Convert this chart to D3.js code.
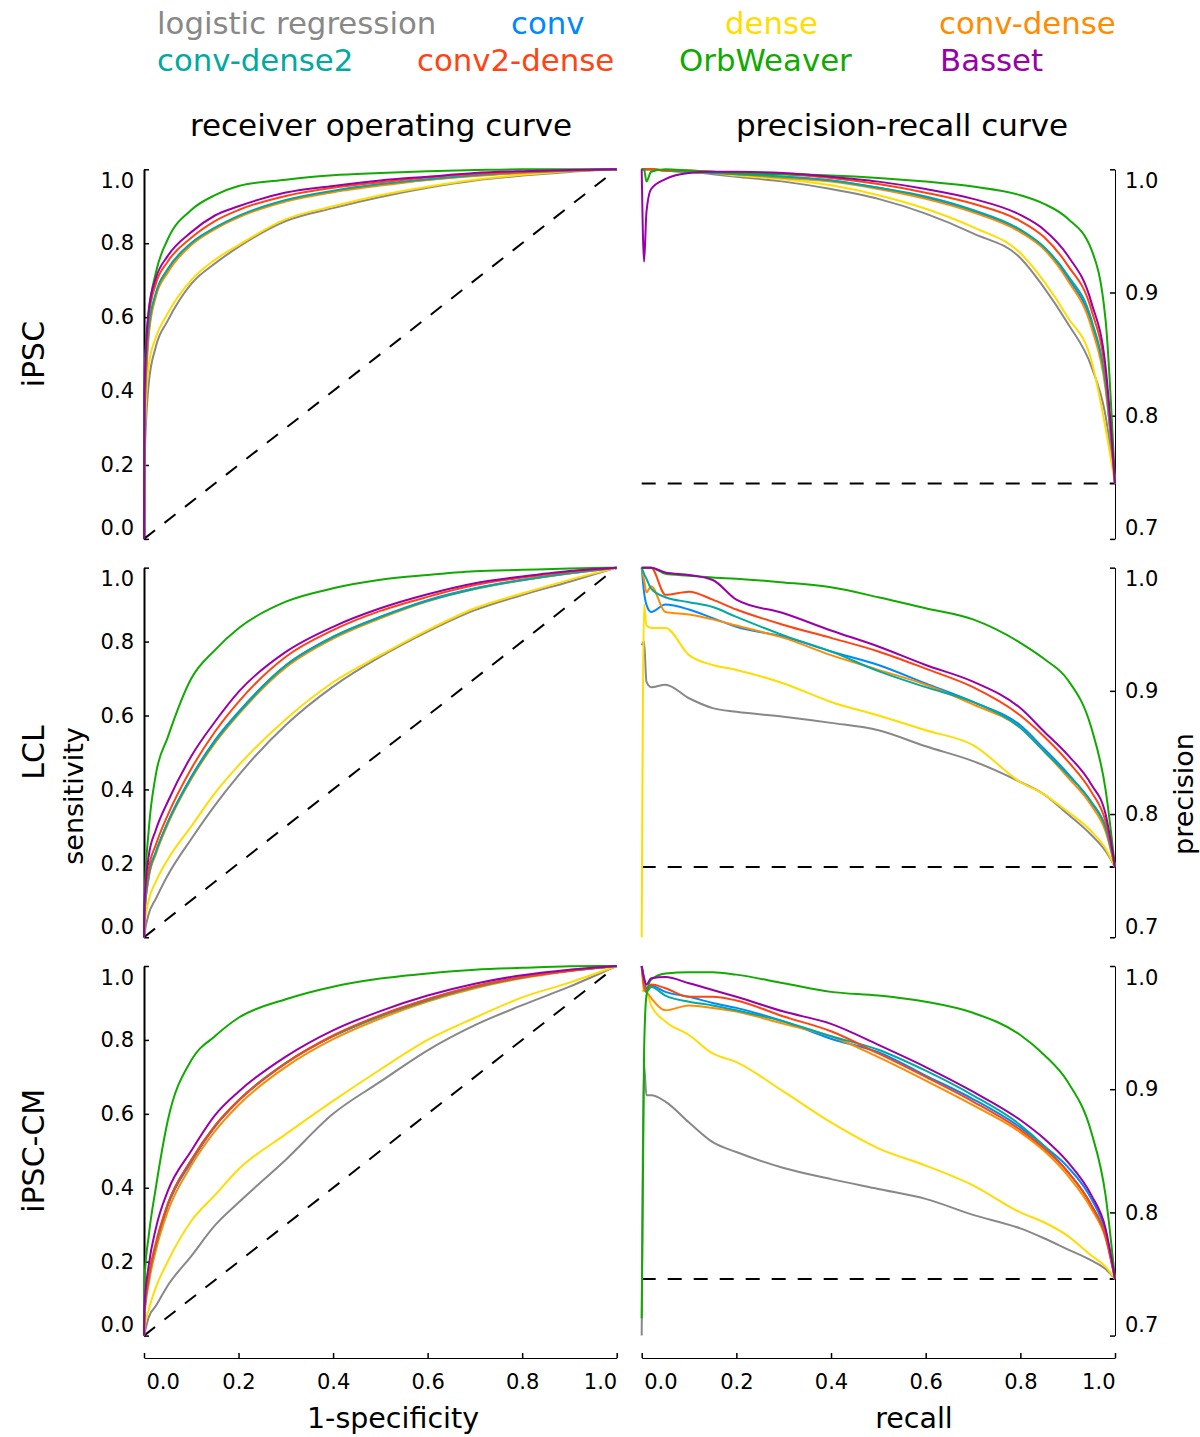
<!DOCTYPE html>
<html><head><meta charset="utf-8">
<script src="https://cdn.jsdelivr.net/npm/d3@7"></script>
<style>body{margin:0;background:#fff} text{font-family:"DejaVu Sans",sans-serif}</style>
</head><body><svg id="c" width="1200" height="1437"></svg>
<script>
// ---------- data ----------
const models = ["logistic regression","conv","dense","conv-dense","conv-dense2","conv2-dense","OrbWeaver","Basset"];
const colors = ["#888888","#0088ff","#ffdd00","#ff8c00","#00aaa0","#ff4411","#11aa00","#9900aa"];
const cellLines = ["iPSC","LCL","iPSC-CM"];
const prBaselines = [0.745, 0.757, 0.746];
const rocTicks = [0, 0.2, 0.4, 0.6, 0.8, 1.0];
const prTicks = [0.7, 0.8, 0.9, 1.0];
const xTicks = [0, 0.2, 0.4, 0.6, 0.8, 1.0];

// false positive rate grid (ROC x)
const fprGrid = [0, 0.001, 0.01, 0.025, 0.05, 0.1, 0.15, 0.2, 0.3, 0.4, 0.5, 0.6, 0.7, 0.8, 0.9, 1.0];
// sensitivity per model (order = models)
const rocIPSC = [
  [0, 0.20, 0.42, 0.52, 0.59, 0.69, 0.745, 0.79, 0.86, 0.895, 0.925, 0.95, 0.97, 0.983, 0.993, 1],
  [0, 0.30, 0.56, 0.66, 0.725, 0.80, 0.84, 0.872, 0.915, 0.94, 0.958, 0.972, 0.983, 0.991, 0.997, 1],
  [0, 0.25, 0.47, 0.545, 0.61, 0.70, 0.755, 0.795, 0.865, 0.90, 0.93, 0.953, 0.972, 0.985, 0.995, 1],
  [0, 0.30, 0.55, 0.655, 0.72, 0.795, 0.838, 0.87, 0.913, 0.938, 0.956, 0.971, 0.982, 0.99, 0.996, 1],
  [0, 0.32, 0.57, 0.665, 0.73, 0.80, 0.842, 0.874, 0.917, 0.942, 0.96, 0.973, 0.984, 0.992, 0.997, 1],
  [0, 0.35, 0.60, 0.69, 0.75, 0.815, 0.86, 0.89, 0.928, 0.95, 0.965, 0.978, 0.987, 0.993, 0.997, 1],
  [0, 0.45, 0.61, 0.72, 0.81, 0.89, 0.93, 0.955, 0.972, 0.984, 0.99, 0.995, 0.998, 1, 1, 1],
  [0, 0.40, 0.62, 0.705, 0.765, 0.83, 0.875, 0.90, 0.937, 0.955, 0.97, 0.98, 0.99, 0.995, 0.998, 1]
];
const rocLCL = [
  [0, 0.01, 0.063, 0.104, 0.167, 0.266, 0.357, 0.438, 0.574, 0.678, 0.759, 0.827, 0.885, 0.926, 0.962, 1],
  [0, 0.06, 0.167, 0.23, 0.31, 0.434, 0.533, 0.61, 0.736, 0.813, 0.867, 0.912, 0.944, 0.967, 0.985, 1],
  [0, 0.03, 0.10, 0.15, 0.21, 0.30, 0.39, 0.465, 0.59, 0.69, 0.763, 0.831, 0.89, 0.93, 0.967, 1],
  [0, 0.06, 0.16, 0.225, 0.305, 0.428, 0.525, 0.603, 0.73, 0.808, 0.863, 0.909, 0.942, 0.966, 0.984, 1],
  [0, 0.06, 0.165, 0.23, 0.31, 0.432, 0.53, 0.607, 0.735, 0.812, 0.866, 0.91, 0.943, 0.966, 0.985, 1],
  [0, 0.08, 0.185, 0.25, 0.33, 0.456, 0.556, 0.637, 0.759, 0.831, 0.883, 0.921, 0.953, 0.973, 0.989, 1],
  [0, 0.10, 0.29, 0.44, 0.54, 0.70, 0.777, 0.836, 0.908, 0.944, 0.967, 0.98, 0.99, 0.994, 0.998, 1],
  [0, 0.09, 0.22, 0.29, 0.366, 0.49, 0.583, 0.664, 0.772, 0.84, 0.89, 0.928, 0.958, 0.976, 0.991, 1]
];
const rocIPSCCM = [
  [0, 0.005, 0.05, 0.08, 0.135, 0.215, 0.298, 0.36, 0.476, 0.60, 0.687, 0.772, 0.84, 0.894, 0.944, 1],
  [0, 0.06, 0.15, 0.24, 0.35, 0.47, 0.565, 0.635, 0.737, 0.81, 0.865, 0.91, 0.945, 0.97, 0.987, 1],
  [0, 0.02, 0.07, 0.13, 0.20, 0.31, 0.38, 0.45, 0.545, 0.635, 0.72, 0.80, 0.86, 0.915, 0.955, 1],
  [0, 0.05, 0.14, 0.23, 0.335, 0.46, 0.553, 0.624, 0.727, 0.802, 0.858, 0.904, 0.94, 0.967, 0.986, 1],
  [0, 0.06, 0.155, 0.245, 0.355, 0.475, 0.568, 0.637, 0.738, 0.81, 0.864, 0.907, 0.943, 0.969, 0.987, 1],
  [0, 0.06, 0.16, 0.25, 0.355, 0.475, 0.567, 0.636, 0.737, 0.812, 0.867, 0.91, 0.945, 0.97, 0.987, 1],
  [0, 0.15, 0.27, 0.40, 0.58, 0.745, 0.81, 0.86, 0.91, 0.944, 0.966, 0.98, 0.99, 0.995, 0.999, 1],
  [0, 0.08, 0.19, 0.29, 0.39, 0.50, 0.596, 0.66, 0.755, 0.826, 0.878, 0.92, 0.952, 0.975, 0.99, 1]
];

// recall grid (PR x)
const recallGrid = [0, 0.005, 0.01, 0.02, 0.05, 0.1, 0.15, 0.2, 0.3, 0.4, 0.5, 0.6, 0.7, 0.8, 0.85, 0.9, 0.95, 0.98, 1.0];
// precision per model (order = models)
const prIPSC = [
  [1, 1, 1, 1, 0.999, 0.998, 0.996, 0.994, 0.99, 0.984, 0.976, 0.964, 0.948, 0.928, 0.904, 0.875, 0.84, 0.80, 0.745],
  [1, 1, 1, 1, 0.999, 0.998, 0.997, 0.996, 0.994, 0.991, 0.985, 0.977, 0.966, 0.95, 0.936, 0.912, 0.875, 0.825, 0.745],
  [1, 1, 1, 1, 0.999, 0.998, 0.997, 0.995, 0.992, 0.987, 0.979, 0.968, 0.953, 0.932, 0.909, 0.88, 0.845, 0.79, 0.745],
  [1, 1, 1, 1, 0.999, 0.998, 0.997, 0.996, 0.993, 0.99, 0.984, 0.976, 0.965, 0.949, 0.935, 0.91, 0.872, 0.822, 0.745],
  [1, 1, 1, 1, 0.999, 0.998, 0.997, 0.996, 0.994, 0.991, 0.985, 0.978, 0.967, 0.951, 0.937, 0.914, 0.878, 0.826, 0.745],
  [1, 1, 1, 1, 0.999, 0.999, 0.998, 0.997, 0.996, 0.993, 0.988, 0.981, 0.972, 0.958, 0.945, 0.922, 0.886, 0.834, 0.745],
  [1, 1, 0.99, 0.998, 1, 0.999, 0.998, 0.997, 0.996, 0.995, 0.993, 0.99, 0.986, 0.979, 0.972, 0.96, 0.935, 0.878, 0.745],
  [1, 0.925, 0.965, 0.984, 0.992, 0.997, 0.998, 0.998, 0.997, 0.994, 0.99, 0.984, 0.976, 0.963, 0.951, 0.93, 0.892, 0.84, 0.745]
];
const prLCL = [
  [0.937, 0.94, 0.9075, 0.903, 0.905, 0.894, 0.886, 0.883, 0.879, 0.874, 0.868, 0.855, 0.843, 0.826, 0.816, 0.80, 0.783, 0.77, 0.757],
  [1, 0.98, 0.97, 0.964, 0.97, 0.966, 0.959, 0.952, 0.944, 0.932, 0.921, 0.906, 0.891, 0.872, 0.853, 0.833, 0.809, 0.789, 0.757],
  [0.70, 0.97, 0.953, 0.951, 0.951, 0.929, 0.921, 0.917, 0.906, 0.891, 0.88, 0.868, 0.856, 0.826, 0.816, 0.802, 0.786, 0.772, 0.757],
  [1, 0.99, 0.98, 0.985, 0.964, 0.962, 0.958, 0.953, 0.943, 0.929, 0.917, 0.905, 0.889, 0.87, 0.851, 0.83, 0.807, 0.786, 0.757],
  [1, 0.995, 0.991, 0.983, 0.976, 0.972, 0.968, 0.96, 0.945, 0.932, 0.916, 0.903, 0.891, 0.87, 0.851, 0.832, 0.81, 0.789, 0.757],
  [1, 1, 1, 1, 0.978, 0.9805, 0.974, 0.966, 0.9535, 0.943, 0.932, 0.918, 0.903, 0.88, 0.863, 0.843, 0.818, 0.794, 0.757],
  [1, 1, 1, 1, 0.995, 0.9935, 0.992, 0.991, 0.988, 0.984, 0.976, 0.967, 0.958, 0.939, 0.926, 0.909, 0.87, 0.82, 0.757],
  [1, 1, 1, 1, 0.996, 0.994, 0.99, 0.974, 0.963, 0.949, 0.936, 0.921, 0.9075, 0.886, 0.867, 0.848, 0.824, 0.80, 0.757]
];
const prIPSCCM = [
  [0.70, 0.92, 0.895, 0.895, 0.89, 0.873, 0.857, 0.849, 0.836, 0.827, 0.819, 0.811, 0.798, 0.787, 0.779, 0.77, 0.761, 0.754, 0.746],
  [1, 0.99, 0.982, 0.984, 0.979, 0.975, 0.97, 0.966, 0.955, 0.941, 0.93, 0.911, 0.892, 0.869, 0.854, 0.837, 0.811, 0.784, 0.746],
  [0.98, 0.98, 0.979, 0.968, 0.955, 0.944, 0.929, 0.922, 0.898, 0.873, 0.852, 0.838, 0.822, 0.80, 0.792, 0.781, 0.765, 0.756, 0.746],
  [1, 0.98, 0.979, 0.974, 0.964, 0.968, 0.966, 0.963, 0.953, 0.943, 0.926, 0.907, 0.887, 0.865, 0.85, 0.83, 0.803, 0.779, 0.746],
  [1, 0.985, 0.979, 0.983, 0.976, 0.971, 0.968, 0.964, 0.955, 0.943, 0.932, 0.915, 0.895, 0.871, 0.854, 0.833, 0.806, 0.781, 0.746],
  [1, 0.985, 0.98, 0.985, 0.982, 0.975, 0.975, 0.972, 0.959, 0.947, 0.929, 0.91, 0.89, 0.867, 0.852, 0.833, 0.806, 0.781, 0.746],
  [0.714, 0.93, 0.976, 0.989, 0.994, 0.995, 0.995, 0.993, 0.986, 0.979, 0.976, 0.971, 0.962, 0.944, 0.928, 0.906, 0.865, 0.814, 0.746],
  [1, 0.99, 0.985, 0.99, 0.991, 0.986, 0.9805, 0.975, 0.963, 0.953, 0.936, 0.918, 0.898, 0.875, 0.86, 0.841, 0.814, 0.787, 0.746]
];

// ---------- layout ----------
const W = 1200, H = 1437;
const rocX0 = 144, rocX1 = 616.7, prX0 = 641.7, prX1 = 1115;
const rowTop0 = 169.3, rowStep = 398.35, rowH = 369.6;
const xAxisY = 1358;
const legendRowsY = [34, 71];
const legendX = [[157, 511, 725, 939], [157, 417, 679, 940]];
const tickFont = 21;

const svg = d3.select("#c");
svg.append("rect").attr("width", W).attr("height", H).attr("fill", "#fff");

const rocSets = [rocIPSC, rocLCL, rocIPSCCM];
const prSets = [prIPSC, prLCL, prIPSCCM];

const xRoc = d3.scaleLinear().domain([0, 1]).range([rocX0, rocX1]);
const xPr = d3.scaleLinear().domain([0, 1]).range([prX0, prX1]);

function fixEnds(sel, lo, hi) {
  sel.selectAll(".tick text").attr("dy", d => d === hi ? "0.87em" : d === lo ? "-0.2em" : "0.32em");
}

cellLines.forEach((name, r) => {
  const top = rowTop0 + r * rowStep, bot = top + rowH;
  const yRoc = d3.scaleLinear().domain([0, 1]).range([bot, top]);
  const yPr = d3.scaleLinear().domain([0.7, 1]).range([bot, top]);

  // ROC axis (left)
  const gl = svg.append("g").attr("transform", `translate(${rocX0},0)`)
    .call(d3.axisLeft(yRoc).tickValues(rocTicks).tickFormat(d3.format(".1f")).tickSize(-5).tickSizeOuter(0).tickPadding(10));
  gl.select(".domain").attr("stroke", "#000").attr("stroke-width", 2);
  gl.selectAll(".tick line").attr("stroke", "#000").attr("stroke-width", 1.5);
  gl.selectAll(".tick text").attr("font-size", tickFont).attr("fill", "#000").attr("font-family", "DejaVu Sans");
  fixEnds(gl, 0, 1);

  // PR axis (right)
  const gr = svg.append("g").attr("transform", `translate(${prX1},0)`)
    .call(d3.axisRight(yPr).tickValues(prTicks).tickFormat(d3.format(".1f")).tickSize(-5).tickSizeOuter(0).tickPadding(10));
  gr.select(".domain").attr("stroke", "#000").attr("stroke-width", 1);
  gr.selectAll(".tick line").attr("stroke", "#000").attr("stroke-width", 1.5);
  gr.selectAll(".tick text").attr("font-size", tickFont).attr("fill", "#000").attr("font-family", "DejaVu Sans");
  fixEnds(gr, 0.7, 1);

  // chance lines
  const diag = [0, 1];
  svg.append("path")
    .attr("d", d3.line().x(d => xRoc(d)).y(d => yRoc(d))(diag))
    .attr("fill", "none").attr("stroke", "#000").attr("stroke-width", 2).attr("stroke-dasharray", "14,12");
  svg.append("path")
    .attr("d", d3.line().x(d => xPr(d)).y(() => yPr(prBaselines[r]))(diag))
    .attr("fill", "none").attr("stroke", "#000").attr("stroke-width", 2).attr("stroke-dasharray", "14,12");

  // curves
  const rocLine = d3.line().x((d, i) => xRoc(fprGrid[i])).y(d => yRoc(d)).curve(d3.curveMonotoneX);
  const prLine = d3.line().x((d, i) => xPr(recallGrid[i])).y(d => yPr(d)).curve(d3.curveMonotoneX);
  models.forEach((m, k) => {
    svg.append("path").attr("d", rocLine(rocSets[r][k]))
      .attr("fill", "none").attr("stroke", colors[k]).attr("stroke-width", 2);
  });
  models.forEach((m, k) => {
    svg.append("path").attr("d", prLine(prSets[r][k]))
      .attr("fill", "none").attr("stroke", colors[k]).attr("stroke-width", 2);
  });

  // row label
  svg.append("text").attr("transform", `translate(44,${(top + bot) / 2}) rotate(-90)`)
    .attr("text-anchor", "middle").attr("font-size", 30).text(name);
});

// bottom x axes
[xRoc, xPr].forEach(sc => {
  const g = svg.append("g").attr("transform", `translate(0,${xAxisY})`)
    .call(d3.axisBottom(sc).tickValues(xTicks).tickFormat(d3.format(".1f")).tickSize(-5).tickSizeOuter(0).tickPadding(16));
  g.select(".domain").attr("stroke", "#000").attr("stroke-width", 1);
  g.selectAll(".tick line").attr("stroke", "#000").attr("stroke-width", 1.5);
  g.selectAll(".tick text").attr("font-size", tickFont).attr("fill", "#000").attr("font-family", "DejaVu Sans")
    .attr("text-anchor", d => d === 0 ? "start" : d === 1 ? "end" : "middle")
    .attr("dx", d => d === 0 ? 2 : 0);
});

// titles and axis labels
svg.append("text").attr("x", 381).attr("y", 136).attr("text-anchor", "middle").attr("font-size", 31).text("receiver operating curve");
svg.append("text").attr("x", 902).attr("y", 136).attr("text-anchor", "middle").attr("font-size", 31).text("precision-recall curve");
svg.append("text").attr("x", 393).attr("y", 1428).attr("text-anchor", "middle").attr("font-size", 28.5).text("1-specificity");
svg.append("text").attr("x", 914).attr("y", 1428).attr("text-anchor", "middle").attr("font-size", 28.5).text("recall");
svg.append("text").attr("transform", "translate(83,796) rotate(-90)").attr("text-anchor", "middle").attr("font-size", 27).text("sensitivity");
svg.append("text").attr("transform", "translate(1193,794) rotate(-90)").attr("text-anchor", "middle").attr("font-size", 27).text("precision");

// legend
models.forEach((m, k) => {
  const row = Math.floor(k / 4), col = k % 4;
  svg.append("text").attr("x", legendX[row][col]).attr("y", legendRowsY[row])
    .attr("font-size", 30.8).attr("fill", colors[k]).text(m);
});
</script></body></html>
